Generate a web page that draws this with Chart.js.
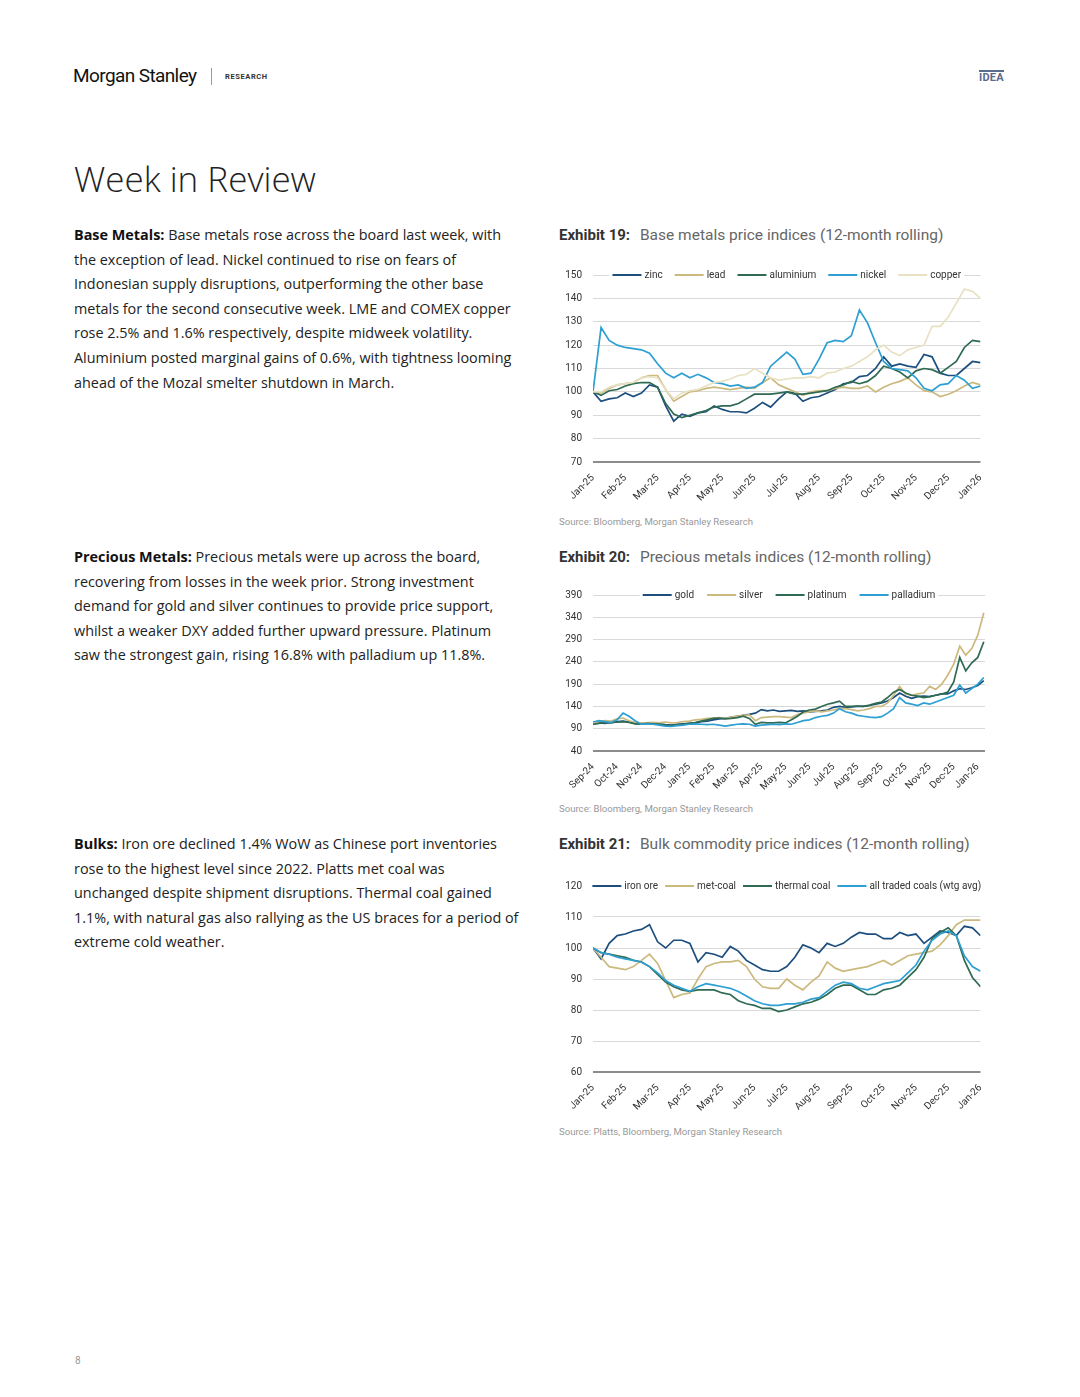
<!DOCTYPE html>
<html>
<head>
<meta charset="utf-8">
<script src="https://cdn.jsdelivr.net/npm/chart.js@4.4.1/dist/chart.umd.min.js"></script>
<style>
  body { margin: 0; background: #fff; }
  .page { position: relative; width: 1080px; height: 1397px; background: #fff; overflow: hidden; color: #222; }
  .abs { position: absolute; }
  .brand { left: 73px; top: 64px; font-family: Roboto, sans-serif; font-size: 19px; letter-spacing: -0.6px; color: #111; }
  .sep { left: 211px; top: 68px; width: 1px; height: 17px; background: #999; }
  .research { left: 225px; top: 72px; font-family: Roboto, sans-serif; font-weight: 700; font-size: 7.5px; letter-spacing: 0.6px; color: #333; }
  .idea { left: 979px; top: 70px; font-family: Roboto, sans-serif; font-weight: 700; font-size: 11px; color: #5a6c8e; border-top: 2px solid #5a6c8e; line-height: 12px; letter-spacing: 0.2px; }
  .title { left: 74px; top: 158px; font-family: "Open Sans", sans-serif; font-weight: 300; font-size: 35px; line-height: 42px; color: #222; }
  .para { left: 74px; width: 470px; font-family: "Open Sans", sans-serif; font-size: 14.4px; line-height: 24.6px; color: #222; white-space: nowrap; }
  .para b { font-weight: 700; color: #111; }
  .ex { left: 559px; font-family: Roboto, sans-serif; font-size: 15.5px; line-height: 20px; color: #666; white-space: nowrap; }
  .ex b { color: #333; font-weight: 700; font-size: 15px; margin-right: 6px; }
  .src { left: 559px; font-family: Roboto, sans-serif; font-size: 9.6px; color: #999; white-space: nowrap; }
  .box { left: 555px; width: 436px; }
  .pnum { left: 75px; top: 1355px; font-family: Roboto, sans-serif; font-size: 10px; color: #999; }
</style>
</head>
<body>
<div class="page">
  <div class="abs brand">Morgan Stanley</div>
  <div class="abs sep"></div>
  <div class="abs research">RESEARCH</div>
  <div class="abs idea">IDEA</div>
  <div class="abs title">Week in Review</div>

  <div class="abs para" style="top:223px"><b>Base Metals:</b> Base metals rose across the board last week, with<br>the exception of lead. Nickel continued to rise on fears of<br>Indonesian supply disruptions, outperforming the other base<br>metals for the second consecutive week. LME and COMEX copper<br>rose 2.5% and 1.6% respectively, despite midweek volatility.<br>Aluminium posted marginal gains of 0.6%, with tightness looming<br>ahead of the Mozal smelter shutdown in March.</div>

  <div class="abs para" style="top:545px"><b>Precious Metals:</b> Precious metals were up across the board,<br>recovering from losses in the week prior. Strong investment<br>demand for gold and silver continues to provide price support,<br>whilst a weaker DXY added further upward pressure. Platinum<br>saw the strongest gain, rising 16.8% with palladium up 11.8%.</div>

  <div class="abs para" style="top:832px"><b>Bulks:</b> Iron ore declined 1.4% WoW as Chinese port inventories<br>rose to the highest level since 2022. Platts met coal was<br>unchanged despite shipment disruptions. Thermal coal gained<br>1.1%, with natural gas also rallying as the US braces for a period of<br>extreme cold weather.</div>

  <div class="abs ex" style="top:225px"><b>Exhibit 19:</b> Base metals price indices (12-month rolling)</div>
  <div class="abs box" style="top:258px;height:252px"><canvas id="c1"></canvas></div>
  <div class="abs src" style="top:516px">Source: Bloomberg, Morgan Stanley Research</div>

  <div class="abs ex" style="top:547px"><b>Exhibit 20:</b> Precious metals indices (12-month rolling)</div>
  <div class="abs box" style="top:578px;height:221px"><canvas id="c2"></canvas></div>
  <div class="abs src" style="top:803px">Source: Bloomberg, Morgan Stanley Research</div>

  <div class="abs ex" style="top:834px"><b>Exhibit 21:</b> Bulk commodity price indices (12-month rolling)</div>
  <div class="abs box" style="top:869px;height:251px"><canvas id="c3"></canvas></div>
  <div class="abs src" style="top:1126px">Source: Platts, Bloomberg, Morgan Stanley Research</div>

  <div class="abs pnum">8</div>
</div>

<script>
// tick labels (one per month)
const months1 = ["Jan-25", "Feb-25", "Mar-25", "Apr-25", "May-25", "Jun-25", "Jul-25", "Aug-25", "Sep-25", "Oct-25", "Nov-25", "Dec-25", "Jan-26"];
const months2 = ["Sep-24", "Oct-24", "Nov-24", "Dec-24", "Jan-25", "Feb-25", "Mar-25", "Apr-25", "May-25", "Jun-25", "Jul-25", "Aug-25", "Sep-25", "Oct-25", "Nov-25", "Dec-25", "Jan-26"];

// Exhibit 19 - base metals, ~weekly readings (4 per month)
const zinc = [100, 96, 97, 97.5, 99.5, 98, 99.5, 103, 102, 94, 87.5, 90.5, 89.5, 91, 91.5, 94, 92.5, 91.5, 91.5, 91, 93, 95.5, 93.5, 97, 100, 99.5, 96, 97.5, 98, 99.5, 101, 103.5, 104, 106.5, 107, 110, 115, 111, 112, 111, 110.5, 116, 115, 108, 107, 107, 110, 113, 112.5];
const lead = [100, 99.5, 101.5, 103, 103.5, 104, 106, 107, 107, 101, 96, 98, 100, 100.5, 101.5, 102, 101.5, 101, 101.5, 102, 101.5, 104, 106, 103, 101.5, 100, 98.5, 100, 100.5, 100.5, 101.5, 102, 101.5, 101.5, 102.5, 100, 102, 103.5, 104.5, 106, 103, 100.5, 100, 98, 99, 100.5, 102.5, 104, 103];
const aluminium = [100, 98.5, 100.5, 101, 102.5, 103.5, 104, 104, 102, 95, 90.5, 89, 90, 91, 92, 93.5, 94, 94, 95, 97, 99, 99, 99, 99.5, 100, 99, 99, 99.5, 100, 100.5, 102, 103, 104.5, 103.5, 104.5, 107, 111, 110, 108.5, 106, 109, 110, 109.5, 108, 110.5, 113, 119, 122, 121.5];
const nickel = [100, 127.5, 122, 120, 119, 118.5, 118, 116.5, 112, 108, 106, 108, 106, 107.5, 106, 104, 103.5, 102.5, 103, 101.5, 102, 104, 111, 114, 117, 114, 107.5, 108, 114, 121, 122, 121.5, 124, 135, 129.5, 121, 113, 110, 109.5, 109, 106, 101.5, 100.5, 103, 103.5, 107, 105, 101.5, 102.5];
const copper = [100, 100, 102, 103, 103.5, 104, 106, 106.5, 106, 101, 97, 99.5, 100.5, 101, 102.5, 104, 104.5, 105.5, 107, 107.5, 110, 108, 106, 105, 105.5, 106, 106, 106.5, 106, 108, 108.5, 110, 111, 113, 115, 118, 120, 117, 115.5, 118, 119, 120, 128, 128, 132, 138, 144, 143, 140];

// Exhibit 20 - precious metals
const gold = [100, 103, 102, 104, 106, 107, 105, 102, 100, 101, 102, 101, 99, 98, 100, 101, 102, 103, 106, 107, 110, 112, 113, 116, 118, 120, 122, 125, 133, 130, 132, 129, 130, 131, 129, 130, 128, 129, 130, 132, 138, 140, 138, 139, 140, 140, 142, 145, 148, 152, 160, 170, 163, 158, 162, 163, 162, 165, 168, 168, 175, 180, 178, 182, 187, 198];
const silver = [100, 106, 108, 107, 112, 114, 108, 104, 103, 103, 104, 103, 105, 103, 104, 106, 107, 110, 111, 113, 114, 115, 113, 116, 118, 120, 121, 108, 115, 116, 117, 117, 116, 115, 122, 125, 128, 130, 128, 130, 132, 135, 135, 133, 130, 132, 135, 140, 140, 148, 165, 185, 168, 165, 168, 170, 185, 178, 190, 210, 235, 275, 255, 270, 300, 350];
const platinum = [100, 102, 104, 103, 105, 106, 104, 101, 100, 102, 101, 100, 98, 97, 99, 100, 102, 104, 107, 110, 113, 114, 112, 113, 115, 118, 113, 100, 104, 103, 103, 104, 103, 110, 118, 128, 132, 134, 140, 145, 148, 152, 140, 140, 141, 140, 143, 147, 150, 160, 172, 178, 170, 165, 163, 160, 162, 165, 168, 172, 195, 250, 220, 238, 250, 285];
const palladium = [105, 108, 106, 104, 110, 125, 118, 108, 100, 101, 100, 98, 96, 95, 97, 98, 100, 101, 100, 99, 100, 98, 96, 98, 100, 101, 100, 96, 98, 99, 100, 99, 101, 100, 104, 108, 110, 115, 118, 120, 125, 135, 128, 125, 120, 118, 116, 115, 117, 125, 135, 160, 148, 145, 142, 148, 145, 150, 155, 160, 165, 188, 170, 180, 190, 205];

// Exhibit 21 - bulks
const ironOre = [100, 96.5, 101.5, 104, 104.5, 105.5, 106, 107.5, 102, 100, 102.5, 102.5, 101.5, 95.5, 98.5, 98, 97, 100.5, 99, 96, 94.5, 93, 92.5, 92.5, 94, 97, 101, 100, 98.5, 101.5, 100.5, 101.5, 103.5, 105, 104.5, 104.5, 103, 103, 105, 104, 104.5, 101.5, 103.5, 105.5, 105, 104, 107, 106.5, 104];
const metCoal = [100, 97, 94, 93.5, 93, 94, 96, 98, 95, 89.5, 84, 85, 85.5, 90, 94, 95, 95.5, 95.5, 96, 94, 90, 87.5, 87, 87, 90, 88, 86.5, 89, 91, 95.5, 93.5, 92.5, 93, 93.5, 94, 95, 96, 94.5, 96, 97.5, 98, 98.5, 99, 101, 104, 107.5, 109, 109, 109];
const thermalCoal = [100, 98.5, 98, 97.5, 97, 96, 95.5, 94, 91.5, 89, 87.5, 86.5, 86, 86.5, 86.5, 86.5, 85.5, 85, 83, 82, 81.5, 80.5, 80.5, 79.5, 80, 81, 82, 82.5, 83.5, 85, 87, 88, 88, 86.5, 85, 85, 86.5, 87, 88, 90.5, 93, 97, 103, 105, 106.5, 104, 96, 90.5, 87.5];
const allCoals = [100, 98.5, 98, 97, 96.5, 96, 95.5, 94, 92, 89.5, 88, 87, 86, 87.5, 88.5, 88, 87.5, 87, 86, 84.5, 83, 82, 81.5, 81.5, 82, 82, 82.5, 83.5, 84, 86, 88, 89, 88.5, 87, 86.5, 87.5, 88.5, 89, 89.5, 92, 94.5, 99, 102.5, 104.5, 105.5, 104, 97.5, 94, 92.5];

const NAVY = "#1d4f7e", TAN = "#cbb97e", GREEN = "#2f6a52", SKY = "#2d9fd3", CREAM = "#e8e1c4";

// legend drawn over the top gridline, like the original exhibits
const insideLegend = {
  id: "insideLegend",
  afterDraw(chart, args, opts) {
    const { ctx, chartArea } = chart;
    const sets = chart.data.datasets;
    const lineLen = 29, gap = 3, spacing = opts.spacing || 12;
    ctx.save();
    ctx.font = "10px Roboto";
    const widths = sets.map(d => lineLen + gap + ctx.measureText(d.label).width);
    const total = widths.reduce((a, b) => a + b, 0) + spacing * (sets.length - 1);
    let x = (chartArea.left + chartArea.right) / 2 - total / 2;
    const y = chartArea.top;
    ctx.fillStyle = "#fff";
    ctx.fillRect(x - 3, y - 6, total + 6, 12);
    ctx.textBaseline = "middle";
    sets.forEach((d, i) => {
      ctx.strokeStyle = d.borderColor;
      ctx.lineWidth = 2;
      ctx.beginPath();
      ctx.moveTo(x, y);
      ctx.lineTo(x + lineLen, y);
      ctx.stroke();
      ctx.fillStyle = "#333";
      ctx.fillText(d.label, x + lineLen + gap, y + 0.5);
      x += widths[i] + spacing;
    });
    ctx.restore();
  }
};

function makeChart(id, labels, xMax, series, yMin, yMax, step, padTop, legendGap) {
  const n = series.length;
  return new Chart(document.getElementById(id), {
    type: "line",
    data: {
      datasets: series.map((s, i) => ({
        label: s.label,
        data: s.data.map((v, k) => ({ x: k / 4, y: v })),
        borderColor: s.color,
        borderWidth: 1.7,
        pointRadius: 0,
        tension: 0,
        order: n - i,
      })),
    },
    options: {
      responsive: true,
      maintainAspectRatio: false,
      animation: false,
      layout: { padding: { top: padTop, right: 6, left: 0, bottom: 0 } },
      plugins: {
        legend: { display: false },
        tooltip: { enabled: false },
        insideLegend: { spacing: legendGap },
      },
      scales: {
        x: {
          type: "linear",
          min: 0,
          max: xMax,
          grid: { display: false },
          border: { display: false },
          ticks: {
            stepSize: 1,
            autoSkip: false,
            includeBounds: false,
            minRotation: 45,
            maxRotation: 45,
            padding: 2,
            color: "#333",
            font: { family: "Roboto", size: 10 },
            callback: v => labels[v],
          },
          afterFit: scale => { scale.height = 48; },
        },
        y: {
          min: yMin,
          max: yMax,
          grid: {
            color: ctx => (ctx.tick.value === yMin ? "#8c8c8c" : "#d9d9d9"),
            lineWidth: ctx => (ctx.tick.value === yMin ? 2 : 1),
            drawTicks: false,
          },
          border: { display: false },
          ticks: {
            stepSize: step,
            padding: 11,
            color: "#333",
            font: { family: "Roboto", size: 10 },
          },
          afterFit: scale => { scale.width = 38; },
        },
      },
    },
    plugins: [insideLegend],
  });
}

makeChart("c1", months1, 12, [
  { label: "zinc", data: zinc, color: NAVY },
  { label: "lead", data: lead, color: TAN },
  { label: "aluminium", data: aluminium, color: GREEN },
  { label: "nickel", data: nickel, color: SKY },
  { label: "copper", data: copper, color: CREAM },
], 70, 150, 10, 15, 12);

makeChart("c2", months2, 16.3, [
  { label: "gold", data: gold, color: NAVY },
  { label: "silver", data: silver, color: TAN },
  { label: "platinum", data: platinum, color: GREEN },
  { label: "palladium", data: palladium, color: SKY },
], 40, 390, 50, 13, 13);

makeChart("c3", months1, 12, [
  { label: "iron ore", data: ironOre, color: NAVY },
  { label: "met-coal", data: metCoal, color: TAN },
  { label: "thermal coal", data: thermalCoal, color: GREEN },
  { label: "all traded coals (wtg avg)", data: allCoals, color: SKY },
], 60, 120, 10, 15, 7);
</script>
</body>
</html>
